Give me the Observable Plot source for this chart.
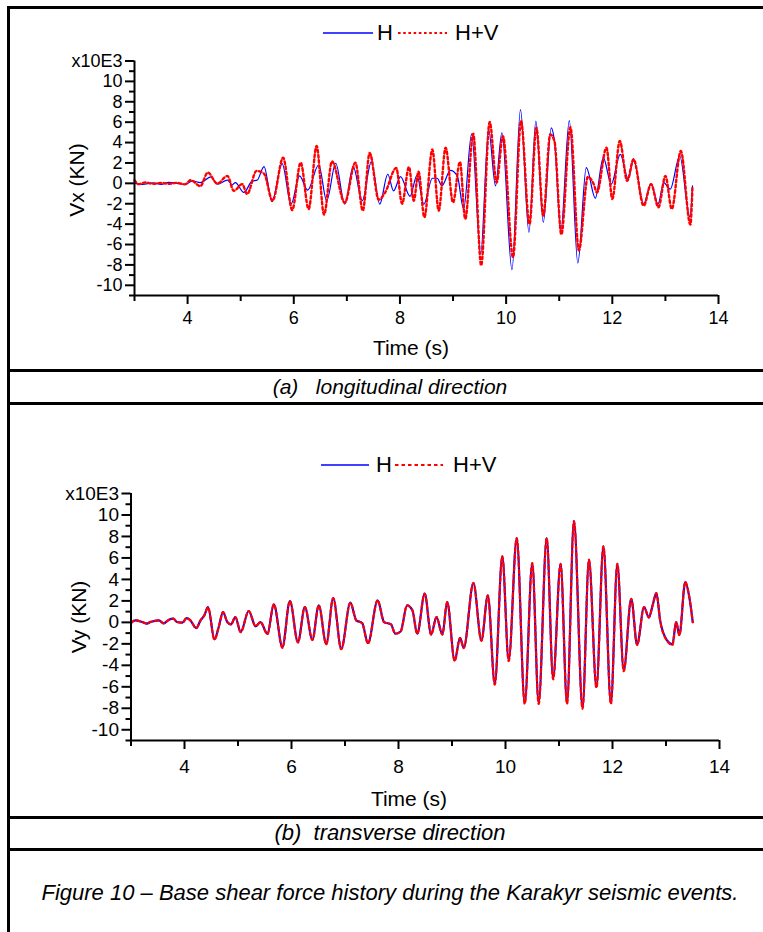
<!DOCTYPE html>
<html><head><meta charset="utf-8">
<script src="https://cdn.jsdelivr.net/npm/d3@7"></script>
<script src="https://cdn.jsdelivr.net/npm/@observablehq/plot@0.6"></script>
<style>
html,body{margin:0;padding:0;background:#fff;}
body{width:763px;height:932px;overflow:hidden;position:relative;font-family:"Liberation Sans",Arial,Helvetica,sans-serif;color:#000;}
.hline{position:absolute;left:7px;width:790px;height:3px;background:#000;}
.vline{position:absolute;left:7px;top:6px;width:3px;height:940px;background:#000;}
.cap{position:absolute;left:10px;width:760px;text-align:center;font-style:italic;white-space:pre;line-height:1;}
.title{position:absolute;white-space:nowrap;line-height:1;}
.leg{position:absolute;white-space:nowrap;line-height:1;font-size:22px;}
</style></head><body>
<div id="root"></div>
<script>
// ---------- DATA ----------
const xMajor = [4, 6, 8, 10, 12, 14];
const xMinor = [3, 5, 7, 9, 11, 13];
const yMajor = [-10, -8, -6, -4, -2, 0, 2, 4, 6, 8, 10, 12];
const yMinor = [-11, -9, -7, -5, -3, -1, 1, 3, 5, 7, 9, 11];
const yTopLabel = "x10E3";
const seriesNames = ["H", "H+V"];

// (a) longitudinal direction, H
const tA_H = [3.00,3.15,3.35,3.50,3.65,3.80,3.95,4.09,4.24,4.44,4.56,4.75,4.84,4.90,5.06,5.22,5.31,5.44,5.59,5.78,5.95,6.11,6.26,6.47,6.62,6.79,6.96,7.12,7.29,7.46,7.62,7.77,7.88,8.01,8.19,8.32,8.45,8.61,8.70,8.79,8.95,9.08,9.20,9.35,9.52,9.67,9.80,9.92,10.11,10.27,10.43,10.56,10.70,10.85,10.91,11.03,11.19,11.35,11.51,11.68,11.83,11.98,12.15,12.30,12.40,12.59,12.73,12.86,12.97,13.09,13.27,13.46,13.51];
const vA_H = [0.00,-0.10,0.05,-0.10,0.10,0.00,-0.10,0.24,0.08,0.63,-0.08,0.31,-0.15,0.08,-0.89,0.24,0.31,1.64,-1.80,1.93,-2.03,0.73,-0.67,1.80,-1.70,1.97,-2.03,1.61,-1.70,2.10,-2.03,0.89,-0.73,0.65,-1.27,0.78,-2.05,0.50,0.50,-0.24,1.28,0.73,-2.52,4.86,-6.91,5.28,-0.24,4.96,-8.47,7.24,-4.80,6.10,-3.82,5.45,4.15,-4.63,6.16,-7.82,1.54,-1.45,2.52,-0.08,2.85,0.41,2.36,-2.03,-0.02,-2.03,0.08,-0.57,2.68,-3.27,-0.24];

// (a) longitudinal direction, H+V
const tA_HV = [3.00,3.08,3.20,3.35,3.50,3.65,3.80,3.95,4.06,4.24,4.38,4.56,4.75,4.87,5.03,5.12,5.30,5.44,5.60,5.80,5.97,6.13,6.28,6.43,6.57,6.72,6.96,7.16,7.30,7.43,7.60,7.72,7.93,8.04,8.17,8.26,8.35,8.46,8.61,8.73,8.86,9.00,9.13,9.23,9.38,9.53,9.69,9.82,9.94,10.13,10.28,10.44,10.57,10.70,10.83,10.91,11.04,11.21,11.37,11.54,11.65,11.71,11.89,12.00,12.14,12.28,12.40,12.59,12.73,12.87,13.00,13.12,13.29,13.47,13.51];
const vA_HV = [0.31,-0.08,0.10,-0.05,0.05,-0.05,0.05,-0.10,0.31,-0.28,1.06,-0.02,0.73,-0.73,-0.08,-1.05,1.22,0.95,-1.70,2.52,-2.62,2.03,-2.52,3.66,-3.07,2.15,-1.90,2.03,-2.68,2.99,-1.60,-0.90,1.50,-2.00,1.61,-1.71,1.15,-3.33,3.33,-2.68,3.50,-1.87,2.10,-3.50,4.86,-8.05,6.03,0.08,4.63,-7.24,6.10,-4.00,5.45,-3.17,4.80,4.15,-5.02,5.51,-6.58,0.63,-0.08,-0.89,3.50,-1.54,4.15,0.24,2.36,-2.20,-0.08,-2.36,0.73,-2.52,3.17,-4.05,-0.24];

// (b) transverse direction
const tB = [3.00,3.08,3.21,3.30,3.36,3.43,3.52,3.61,3.71,3.79,3.86,3.96,4.04,4.11,4.22,4.30,4.37,4.44,4.56,4.64,4.72,4.80,4.87,4.95,5.05,5.20,5.33,5.42,5.55,5.67,5.83,5.97,6.12,6.25,6.39,6.51,6.65,6.78,6.93,7.10,7.21,7.32,7.43,7.61,7.73,7.86,7.94,8.04,8.16,8.26,8.35,8.49,8.61,8.71,8.82,8.91,9.05,9.15,9.22,9.40,9.55,9.67,9.80,9.94,10.06,10.21,10.36,10.50,10.62,10.77,10.89,11.03,11.15,11.28,11.44,11.56,11.70,11.83,11.97,12.09,12.21,12.35,12.46,12.59,12.68,12.75,12.82,12.89,13.02,13.12,13.19,13.25,13.36,13.43,13.50];
const vB_H = [-0.06,0.19,0.03,-0.12,0.03,0.12,0.19,-0.09,0.25,0.34,0.03,-0.03,0.40,0.19,-0.53,0.19,0.65,1.43,-1.58,-0.43,0.96,0.03,-0.19,0.50,-0.90,1.06,-0.37,0.03,-1.06,1.68,-2.30,1.99,-1.83,1.43,-1.61,1.58,-1.99,2.27,-2.45,1.83,0.19,-0.06,-1.92,2.05,0.03,-0.19,-1.06,-0.85,1.58,1.12,-1.06,2.67,-1.12,0.50,-1.12,1.89,-3.54,-1.43,-2.37,3.66,-1.68,2.51,-5.70,6.14,-3.54,7.85,-7.50,5.52,-7.50,7.85,-5.20,5.46,-7.50,9.43,-7.95,5.83,-6.00,7.08,-7.50,5.46,-4.47,2.20,-2.05,1.43,0.45,1.58,2.73,0.19,-1.68,-2.05,0.03,-1.18,3.76,2.51,0.03];
const vB_HV = [-0.06,0.19,0.03,-0.12,0.03,0.12,0.19,-0.09,0.25,0.34,0.03,-0.03,0.40,0.19,-0.53,0.19,0.65,1.40,-1.62,-0.43,0.96,0.03,-0.19,0.50,-0.92,1.06,-0.37,0.03,-1.10,1.68,-2.38,1.99,-1.88,1.43,-1.65,1.58,-2.05,2.27,-2.50,1.83,0.19,-0.06,-1.98,2.05,0.03,-0.19,-1.06,-0.85,1.58,1.12,-1.06,2.67,-1.15,0.50,-1.15,1.89,-3.60,-1.43,-2.40,3.66,-1.72,2.51,-5.80,6.14,-3.60,7.85,-7.60,5.52,-7.60,7.85,-5.30,5.46,-7.60,9.43,-8.05,5.83,-6.10,7.08,-7.60,5.46,-4.55,2.20,-2.10,1.43,0.45,1.58,2.73,0.19,-1.72,-2.10,0.03,-1.20,3.76,2.51,0.03];

// ---------- BUILD ----------
const FONT = '"Liberation Sans", Arial, Helvetica, sans-serif';
const BLUE = "#0000ff", RED = "#ff0000";
const rows = (ts, vs) => ts.map((t, i) => ({t, v: vs[i]}));

function panel(o) {
  return Plot.plot({
    width: 763, height: o.height,
    marginLeft: o.ml, marginRight: o.mr, marginTop: o.mt, marginBottom: o.mb,
    x: {domain: [3, 14], label: null},
    y: {domain: [-11, 12], label: null},
    style: {fontFamily: FONT, fontSize: o.fs + "px", color: "#000", background: "transparent", overflow: "visible"},
    marks: [
      Plot.line(o.H, {x: "t", y: "v", stroke: BLUE, strokeWidth: o.bw, curve: "monotone-x"}),
      Plot.line(o.HV, {x: "t", y: "v", stroke: RED, strokeWidth: o.rw, strokeDasharray: o.dash, curve: "monotone-x"}),
      Plot.ruleX([3], {strokeWidth: 2}),
      Plot.ruleY([-11], {strokeWidth: 2}),
      Plot.axisX({ticks: xMajor, tickSize: 9, tickPadding: o.xpad, strokeWidth: 2, fontSize: o.fs, tickFormat: d => String(d), label: null}),
      Plot.axisX({ticks: xMinor, tickSize: 6, strokeWidth: 2, tickFormat: () => "", label: null}),
      Plot.axisY({ticks: yMajor, tickSize: 9, tickPadding: 3, strokeWidth: 2, fontSize: o.fs, tickFormat: d => d === 12 ? yTopLabel : String(d), label: null}),
      Plot.axisY({ticks: yMinor, tickSize: 5, strokeWidth: 2, tickFormat: () => "", label: null})
    ]
  });
}

function legendSVG(x1, x2, color, w, dash) {
  const ns = "http://www.w3.org/2000/svg";
  const s = document.createElementNS(ns, "svg");
  s.setAttribute("width", x2 - x1); s.setAttribute("height", 6);
  s.style.position = "absolute"; s.style.left = x1 + "px";
  const l = document.createElementNS(ns, "line");
  l.setAttribute("x1", 0); l.setAttribute("x2", x2 - x1); l.setAttribute("y1", 3); l.setAttribute("y2", 3);
  l.setAttribute("stroke", color); l.setAttribute("stroke-width", w);
  if (dash) l.setAttribute("stroke-dasharray", dash);
  s.appendChild(l);
  return s;
}

function legend(cy, pos, dash) {
  const frag = document.createDocumentFragment();
  const b = legendSVG(pos[0], pos[1], BLUE, 1.5, null); b.style.top = (cy - 3) + "px"; frag.appendChild(b);
  const h = document.createElement("div"); h.className = "leg"; h.textContent = seriesNames[0];
  h.style.left = pos[2] + "px"; h.style.top = (cy - 11) + "px"; frag.appendChild(h);
  const r = legendSVG(pos[3], pos[4], RED, 2.2, dash); r.style.top = (cy - 3) + "px"; frag.appendChild(r);
  const hv = document.createElement("div"); hv.className = "leg"; hv.textContent = seriesNames[1];
  hv.style.left = pos[5] + "px"; hv.style.top = (cy - 11) + "px"; frag.appendChild(hv);
  return frag;
}

const root = document.getElementById("root");

// frame lines
root.insertAdjacentHTML("beforeend",
  '<div class="vline"></div>' +
  '<div class="hline" style="top:6px"></div>' +
  '<div class="hline" style="top:369px"></div>' +
  '<div class="hline" style="top:402px"></div>' +
  '<div class="hline" style="top:816px"></div>' +
  '<div class="hline" style="top:848px"></div>');

// panel a
const pa = panel({height: 370, ml: 134, mr: 45, mt: 60.5, mb: 75, fs: 18, xpad: 7, bw: 1.2, rw: 2.4, dash: "2.6,2.6",
  H: rows(tA_H, vA_H), HV: rows(tA_HV, vA_HV)});
pa.style.position = "absolute"; pa.style.left = "0px"; pa.style.top = "0px";
root.appendChild(pa);

// panel b
const pb = panel({height: 414, ml: 130.5, mr: 44, mt: 90, mb: 77, fs: 19, xpad: 10, bw: 2.2, rw: 2.2, dash: "3.5,3",
  H: rows(tB, vB_H), HV: rows(tB, vB_HV)});
pb.style.position = "absolute"; pb.style.left = "0px"; pb.style.top = "403px";
root.appendChild(pb);

// legends
root.appendChild(legend(33, [323, 373, 377, 398, 447, 455], "2.6,2.6"));
root.appendChild(legend(465, [321, 369, 376, 395, 443, 453], "3.5,3"));

// axis titles & captions
root.insertAdjacentHTML("beforeend",
  '<div class="title" style="left:411px;top:347px;transform:translate(-50%,-50%);font-size:21px">Time (s)</div>' +
  '<div class="title" style="left:76px;top:180px;transform:translate(-50%,-50%) rotate(-90deg);font-size:21px">Vx (KN)</div>' +
  '<div class="title" style="left:409px;top:798px;transform:translate(-50%,-50%);font-size:21px">Time (s)</div>' +
  '<div class="title" style="left:78px;top:617px;transform:translate(-50%,-50%) rotate(-90deg);font-size:21px">Vy (KN)</div>' +
  '<div class="cap" style="top:376px;font-size:21px">(a)   longitudinal direction</div>' +
  '<div class="cap" style="top:822px;font-size:22px">(b)  transverse direction</div>' +
  '<div class="cap" style="top:882px;font-size:22px">Figure 10 \u2013 Base shear force history during the Karakyr seismic events.</div>');
</script>
</body></html>
